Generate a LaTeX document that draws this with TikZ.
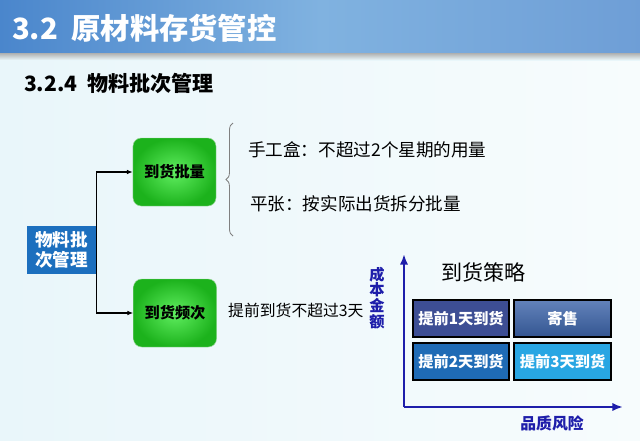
\documentclass[tikz,border=0pt]{standalone}
\usepackage{fontspec}
\setmainfont{Noto Sans CJK SC}
\usepackage{tikz}
\usetikzlibrary{arrows.meta, positioning, decorations.pathreplacing, calc}

\definecolor{hdrdark}{RGB}{74,134,204}
\definecolor{hdrlight}{RGB}{128,178,224}
\definecolor{rootblue}{RGB}{28,111,190}
\definecolor{axisblue}{RGB}{30,30,170}
\definecolor{cellA}{RGB}{61,78,148}
\definecolor{cellB}{RGB}{60,100,170}
\definecolor{cellC}{RGB}{31,107,181}
\definecolor{cellD}{RGB}{40,166,227}
\definecolor{bgleft}{RGB}{233,246,250}
\definecolor{bgright}{RGB}{247,252,253}

\begin{document}
\begin{tikzpicture}[x=0.03cm, y=-0.03cm,
    root/.style={draw=none, fill=rootblue, text=white, align=center, minimum width=2.07cm, minimum height=1.44cm, inner sep=1pt, font=\fontsize{15}{17}\selectfont\bfseries},
    gbox/.style={draw=green!60!black!40, rounded corners=7pt, inner color={rgb,255:red,96;green,238;blue,96}, outer color={rgb,255:red,28;green,178;blue,28}, minimum width=2.49cm, minimum height=2.04cm, font=\fontsize{13}{15}\selectfont\bfseries},
    note/.style={anchor=west, inner sep=0pt, font=\fontsize{15}{17}\selectfont},
    cell/.style={draw=black, line width=1.6pt, text=white, minimum width=2.9cm, minimum height=1.13cm, inner sep=0pt, font=\fontsize{13}{15}\selectfont\bfseries},
    arrow/.style={-{Latex[length=5pt,width=4pt]}, line width=1.1pt},
    axis/.style={-{Latex[length=9pt,width=7pt]}, line width=2.4pt, draw=axisblue}]
    \useasboundingbox (0,0) rectangle (640,440);

    % background and header
    \shade[left color=bgleft, right color=bgright] (0,0) rectangle (640,440);
    \shade[top color=black!35, bottom color=bgleft] (0,52) rectangle (640,60);
    \shade[left color=hdrdark, right color=hdrdark!80!white, middle color=hdrlight] (0,0) rectangle (640,52);
    \node[anchor=west, text=white, font=\fontsize{25}{30}\selectfont\bfseries] (title) at (8,28) {3.2\ \ 原材料存货管控};
    \node[anchor=west, font=\fontsize{18}{21}\selectfont\bfseries] (sub) at (20,83) {3.2.4\ \ 物料批次管理};

    % tree
    \node[root] (mgmt) at (61.5,250) {物料批\\次管理};
    \node[gbox] (qty) at (174.5,172) {到货批量};
    \node[gbox] (freq) at (175,313) {到货频次};

    \draw[line width=1.1pt] (mgmt.east) -- ++(0.4,0) coordinate (fork);
    \draw[arrow] (fork) |- (qty.west);
    \draw[arrow] (fork) |- (freq.west);

    \draw[gray, line width=0.7pt, decorate, decoration={brace, amplitude=6pt}] (233,236) -- (233,123);
    \node[note] (box) at (248,150) {手工盒：不超过2个星期的用量};
    \node[note] (flat) at (250,204) {平张：按实际出货拆分批量};
    \node[note, font=\fontsize{13.5}{16}\selectfont] (early) at (228,310) {提前到货不超过3天};

    % strategy matrix
    \coordinate (o) at (404,407);
    \draw[axis] (o) -- (404,254);
    \draw[axis] (o) -- (623,407);
    \node[text=axisblue, align=center, font=\fontsize{13}{13.5}\selectfont\bfseries] (cost) at (377,298) {成\\本\\金\\额};
    \node[text=axisblue, font=\fontsize{13.5}{15}\selectfont\bfseries] (risk) at (552,423) {品质风险};
    \node[anchor=west, font=\fontsize{18}{21}\selectfont] (strat) at (437,272) {到货策略};

    \node[cell, fill=cellA] (d1) at (461,318.5) {提前1天到货};
    \node[cell, top color=cellB!80!white, bottom color=cellB!85!black, right=0.9mm of d1] (cons) {寄售};
    \node[cell, fill=cellC, below=1.05mm of d1] (d2) {提前2天到货};
    \node[cell, fill=cellD, right=0.9mm of d2] (d3) {提前3天到货};
\end{tikzpicture}
\end{document}
